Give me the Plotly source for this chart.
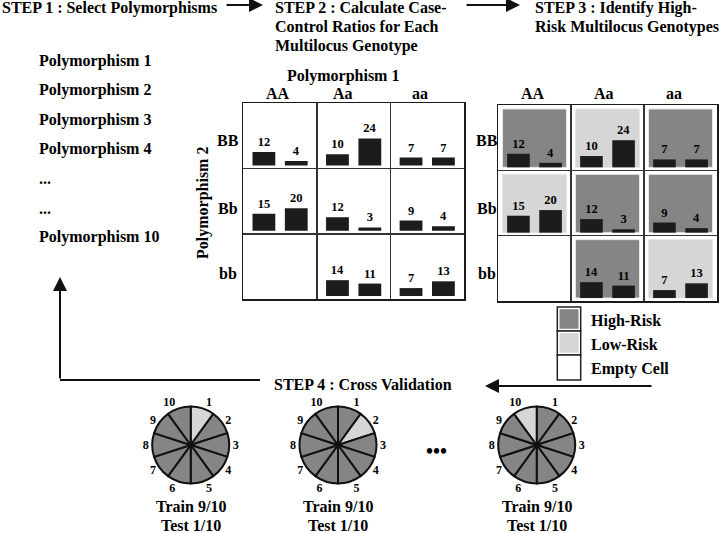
import plotly.graph_objects as go

W, H = 720, 533
FONT = "Liberation Serif, Times New Roman, serif"

# ---------------- data ----------------
step1_text = "STEP 1 : Select Polymorphisms"
step2_lines = ["STEP 2 : Calculate Case-", "Control Ratios for Each", "Multilocus Genotype"]
step3_lines = ["STEP 3 : Identify High-", "Risk Multilocus Genotypes"]
step4_text = "STEP 4 : Cross Validation"
polymorphisms = ["Polymorphism 1", "Polymorphism 2", "Polymorphism 3", "Polymorphism 4",
                 "...", "...", "Polymorphism 10"]
axis1_title = "Polymorphism 1"
axis2_title = "Polymorphism 2"
p1_genotypes = ["AA", "Aa", "aa"]          # columns
p2_genotypes = ["BB", "Bb", "bb"]          # rows (top to bottom)
cases = [[12, 10, 7],
         [15, 12, 9],
         [None, 14, 7]]
controls = [[4, 24, 7],
            [20, 3, 4],
            [None, 11, 13]]
legend_labels = ["High-Risk", "Low-Risk", "Empty Cell"]
folds = [str(i) for i in range(1, 11)]
fold_sizes = [1] * 10
test_folds = [1, 2, 10]
train_label = "Train 9/10"
test_label = "Test 1/10"

# ---------------- style ----------------
HIGH = "#858585"
LOW = "#d6d6d6"
EMPTY = "#ffffff"
BAR = "#1c1c1c"
K = 1.13  # px per count unit


def px(x):
    return x / W


def py(y):
    return 1 - y / H


def b(t):
    return "<b>" + t + "</b>"


fig = go.Figure()
annotations = []
shapes = []

grids = [
    dict(name="1", x0=243.3, x1=464.0, y0=103.3, y1=299.0, shade=False,
         col_lbl_x=[278, 343, 420], row_lbl_x=228),
    dict(name="2", x0=498.0, x1=717.0, y0=105.0, y1=301.0, shade=True,
         col_lbl_x=[533, 604, 674], row_lbl_x=487),
]
row_lbl_y = [140, 208, 273]

for g in grids:
    hpx = g["y1"] - g["y0"]
    yr = hpx / K
    RH = yr / 3
    off = 3.0 / K
    xs, bases, vals, txt = [], [], [], []
    for r in range(3):
        for c in range(3):
            if cases[r][c] is None:
                continue
            base = (2 - r) * RH + off
            for pos, v in ((0.28, cases[r][c]), (0.72, controls[r][c])):
                xs.append(c + pos)
                bases.append(base)
                vals.append(v)
                txt.append(b(str(v)))
            if g["shade"]:
                ratio = cases[r][c] / controls[r][c]
                color = HIGH if ratio >= 1 else LOW
                ix = 4.5 / ((g["x1"] - g["x0"]) / 3)
                shapes.append(dict(type="rect", xref="x" + g["name"], yref="y" + g["name"],
                                   x0=c + ix, x1=c + 1 - ix,
                                   y0=base, y1=(3 - r) * RH - 4.0 / K,
                                   fillcolor=color, line=dict(color="#e6e6e6", width=1),
                                   layer="below"))
    fig.add_trace(go.Bar(
        x=xs, y=vals, base=bases, width=0.31, text=txt, textposition="outside",
        constraintext="none", cliponaxis=False,
        textfont=dict(family=FONT, size=12.5, color="black"),
        marker=dict(color=BAR, line=dict(width=0)),
        xaxis="x" + g["name"], yaxis="y" + g["name"], showlegend=False, hoverinfo="skip"))
    axkw = dict(showticklabels=False, ticks="", zeroline=False, showline=True, mirror=True,
                linecolor="#1a1a1a", linewidth=1.5, showgrid=True, gridcolor="#333333",
                gridwidth=1.5, fixedrange=True)
    fig.update_layout(**{
        ("xaxis" if g["name"] == "1" else "xaxis2"): dict(
            domain=[px(g["x0"]), px(g["x1"])], range=[0, 3], tickvals=[1, 2],
            anchor="y" + g["name"], **axkw),
        ("yaxis" if g["name"] == "1" else "yaxis2"): dict(
            domain=[py(g["y1"]), py(g["y0"])], range=[0, yr], tickvals=[RH, 2 * RH],
            anchor="x" + g["name"], **axkw),
    })
    for c, lbl in enumerate(p1_genotypes):
        annotations.append(dict(x=px(g["col_lbl_x"][c]), y=py(94), text=b(lbl),
                                font=dict(size=16)))
    for r, lbl in enumerate(p2_genotypes):
        annotations.append(dict(x=px(g["row_lbl_x"]), y=py(row_lbl_y[r]), text=b(lbl),
                                font=dict(size=16)))

# axis titles of the left grid
annotations.append(dict(x=px(343), y=py(76), text=b(axis1_title), font=dict(size=16)))
annotations.append(dict(x=px(203), y=py(203), text=b(axis2_title), font=dict(size=16),
                        textangle=-90))

# step texts
annotations.append(dict(x=px(0), y=py(8), text=b(step1_text), xanchor="left",
                        font=dict(size=16)))
for i, t in enumerate(step2_lines):
    annotations.append(dict(x=px(273), y=py(8 + 19 * i), text=b(t), xanchor="left",
                            font=dict(size=16)))
for i, t in enumerate(step3_lines):
    annotations.append(dict(x=px(533), y=py(8 + 19 * i), text=b(t), xanchor="left",
                            font=dict(size=16)))
annotations.append(dict(x=px(272), y=py(384), text=b(step4_text), xanchor="left",
                        font=dict(size=16)))

# polymorphism list
for i, t in enumerate(polymorphisms):
    annotations.append(dict(x=px(37), y=py(61 + 29.4 * i), text=b(t), xanchor="left",
                            font=dict(size=16)))

# arrows
arrow = dict(text="", showarrow=True, arrowhead=2, arrowsize=1.4, arrowwidth=2,
             arrowcolor="#111111", axref="pixel", ayref="pixel", standoff=0)
annotations.append(dict(x=px(263), y=py(5), ax=-38, ay=0, **arrow))
annotations.append(dict(x=px(520), y=py(5), ax=-55, ay=0, **arrow))
annotations.append(dict(x=px(485), y=py(386), ax=168, ay=0, **arrow))
annotations.append(dict(x=px(60), y=py(277), ax=0, ay=103, **arrow))
shapes.append(dict(type="line", xref="paper", yref="paper", x0=px(60), x1=px(260),
                   y0=py(380), y1=py(380), line=dict(color="#111111", width=2)))

# legend
leg_colors = [HIGH, LOW, EMPTY]
leg_top = [307, 331, 355]
leg_bot = [331, 355, 380]
for i, lbl in enumerate(legend_labels):
    shapes.append(dict(type="rect", xref="paper", yref="paper", x0=px(557.3), x1=px(580.7),
                       y0=py(leg_bot[i]), y1=py(leg_top[i]), fillcolor="white",
                       line=dict(color="#222222", width=1.5)))
    shapes.append(dict(type="rect", xref="paper", yref="paper", x0=px(559.5), x1=px(578.5),
                       y0=py(leg_bot[i] - 2.2), y1=py(leg_top[i] + 2.2),
                       fillcolor=leg_colors[i], line=dict(width=0)))
    annotations.append(dict(x=px(589), y=py((leg_top[i] + leg_bot[i]) / 2 + 1.5),
                            text=b(lbl), xanchor="left", font=dict(size=16)))

# pies
pie_cx = [190.7, 338.0, 536.7]
pie_cy = 445.0
R = 38.5
for cx, tf in zip(pie_cx, test_folds):
    colors = [LOW if (i + 1) == tf else HIGH for i in range(10)]
    fig.add_trace(go.Pie(
        values=fold_sizes, labels=folds, text=[b(f) for f in folds], textinfo="text",
        textposition="outside", sort=False, direction="clockwise", rotation=0,
        marker=dict(colors=colors, line=dict(color="#111111", width=2)),
        textfont=dict(family=FONT, size=12, color="black"),
        domain=dict(x=[px(cx - R), px(cx + R)], y=[py(pie_cy + R), py(pie_cy - R)]),
        showlegend=False, hoverinfo="skip", automargin=False))
    annotations.append(dict(x=px(cx), y=py(506), text=b(train_label), font=dict(size=16)))
    annotations.append(dict(x=px(cx), y=py(525), text=b(test_label), font=dict(size=16)))

annotations.append(dict(x=px(437), y=py(451), text=b("•••"), font=dict(size=20)))

for a in annotations:
    a.setdefault("xref", "paper")
    a.setdefault("yref", "paper")
    a.setdefault("showarrow", False)
    if not a["showarrow"]:
        a.setdefault("xanchor", "center")
        a.setdefault("yanchor", "middle")
    f = a.setdefault("font", {})
    f.setdefault("family", FONT)
    f.setdefault("color", "black")

fig.update_layout(
    width=W, height=H, margin=dict(l=0, r=0, t=0, b=0),
    paper_bgcolor="white", plot_bgcolor="white",
    barmode="overlay", showlegend=False,
    annotations=annotations, shapes=shapes,
    font=dict(family=FONT, color="black"),
)

fig.write_html("out.html", config={"displayModeBar": False, "staticPlot": True},
               post_script="document.body.style.margin='0';")
